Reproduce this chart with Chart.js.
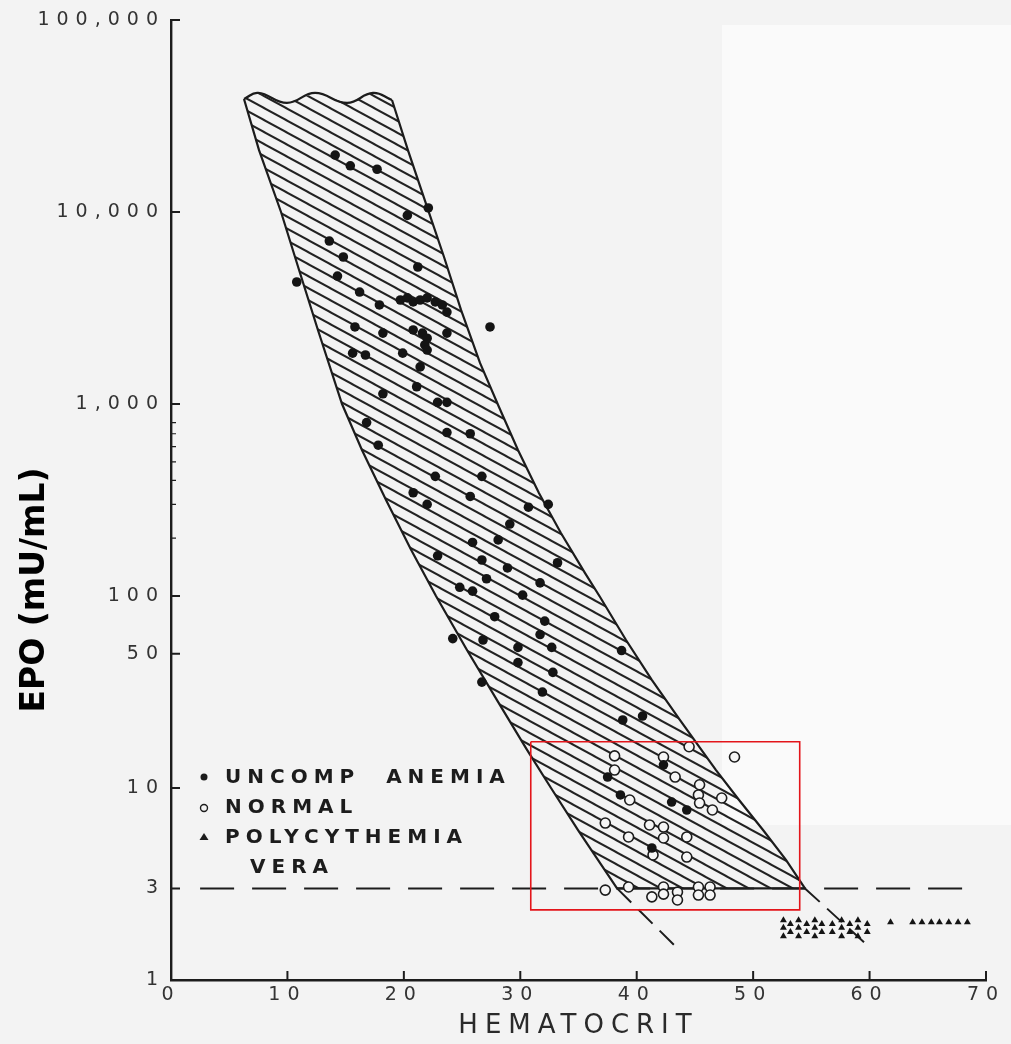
<!DOCTYPE html>
<html>
<head>
<meta charset="utf-8">
<title>EPO vs Hematocrit</title>
<script src="https://cdn.jsdelivr.net/npm/chart.js@4.4.1/dist/chart.umd.min.js"></script>
<style>
  html, body { margin: 0; padding: 0; background: #f3f3f3; }
  #wrap { position: relative; width: 1011px; height: 1044px; overflow: hidden; }
  #paper { position: absolute; left: 722px; top: 25px; width: 289px; height: 800px; background: #fafafa; }
  canvas { position: absolute; left: 0; top: 0; }
</style>
</head>
<body>
<div id="wrap">
  <div id="paper"></div>
  <canvas id="epo" width="1011" height="1044"></canvas>
</div>
<script>
// ---- axis ticks ----
const hctTicks = [0, 10, 20, 30, 40, 50, 60, 70];
const epoTicks = [1, 3, 10, 50, 100, 1000, 10000, 100000];
const epoTickLabels = ["1", "3", "10", "50", "100", "1,000", "10,000", "100,000"];
const epoMinorTicks = [200, 300, 400, 500, 600, 700, 800];

// ---- uncompensated anemia (filled dots) ----
const anemiaHct = [14.1, 15.4, 17.7, 20.3, 22.1, 13.6, 14.8, 21.2, 10.8, 14.3,
  16.2, 17.9, 19.7, 20.3, 20.8, 21.4, 22.0, 22.7, 23.3, 23.7,
  27.4, 15.8, 18.2, 20.8, 21.6, 22.0, 21.8, 22.0, 23.7, 15.6,
  16.7, 19.9, 21.4, 21.1, 18.2, 22.9, 23.7, 16.8, 17.8, 23.7,
  25.7, 22.7, 26.7, 20.8, 22.0, 25.7, 30.7, 32.4, 29.1, 25.9,
  28.1, 22.9, 26.7, 28.9, 33.2, 27.1, 24.8, 25.9, 30.2, 31.7,
  27.8, 32.1, 31.7, 24.2, 26.8, 29.8, 32.7, 38.7, 29.8, 32.8,
  26.7, 31.9, 38.8, 40.5, 37.5, 38.6, 43.0, 41.3, 42.3, 44.3];
const anemiaEpo = [19800, 17400, 16700, 9600, 10500, 7060, 5830, 5170, 4320, 4640,
  3830, 3280, 3480, 3570, 3400, 3480, 3570, 3400, 3280, 3010,
  2520, 2520, 2340, 2430, 2340, 2200, 2030, 1910, 2340, 1840,
  1800, 1840, 1560, 1230, 1130, 1020, 1020, 800, 610, 710,
  700, 420, 420, 345, 300, 330, 290, 300, 237, 190,
  196, 162, 154, 140, 149, 123, 111, 106, 101, 117,
  78, 74, 63, 60, 59, 54, 54, 52, 45, 40,
  35.6, 31.6, 22.6, 23.7, 11.4, 9.2, 8.45, 4.87, 13.2, 7.68];

// ---- normal (open circles) ----
const normalHct = [44.5, 38.1, 42.3, 48.4, 38.1, 43.3, 45.4, 45.3, 47.3, 39.4,
  45.4, 46.5, 37.3, 41.1, 42.3, 39.3, 42.3, 44.3, 41.4, 44.3,
  37.3, 39.3, 41.3, 42.3, 42.3, 43.5, 43.5, 45.3, 46.3, 45.3, 46.3];
const normalEpo = [16.4, 14.7, 14.5, 14.5, 12.4, 11.4, 10.4, 9.2, 8.87, 8.66,
  8.35, 7.68, 6.57, 6.42, 6.26, 5.56, 5.49, 5.56, 4.48, 4.37,
  2.94, 3.05, 2.71, 3.05, 2.8, 2.87, 2.61, 3.05, 3.05, 2.77, 2.77];

// ---- polycythemia vera (triangles) ----
const polyHct = [52.6, 52.6, 52.6, 53.2, 53.2, 53.9, 53.9, 53.9, 54.6, 54.6,
  55.3, 55.3, 55.3, 55.9, 55.9, 56.8, 56.8, 57.6, 57.6, 57.6,
  58.3, 58.3, 59.0, 59.0, 59.0, 59.8, 59.8, 61.8,
  63.7, 64.5, 65.3, 66.0, 66.8, 67.6, 68.4];
const polyEpo = [2.05, 1.87, 1.69, 1.96, 1.78, 2.05, 1.87, 1.69, 1.96, 1.78,
  2.05, 1.87, 1.69, 1.96, 1.78, 1.96, 1.78, 2.05, 1.87, 1.69,
  1.96, 1.78, 2.05, 1.87, 1.69, 1.96, 1.78, 2.0,
  2.0, 2.0, 2.0, 2.0, 2.0, 2.0, 2.0];

// ---- hatched normal band ----
const topHct = [6.27, 7.47, 9.96, 12.37, 15.12, 17.35, 18.98];
const topEpo = [38800, 41700, 37000, 41700, 37000, 41700, 38300];
const leftHct = [6.27, 7.56, 9.45, 11.0, 12.62, 14.69, 16.4, 18.47, 20.62, 22.76,
  25.42, 28.0, 30.58, 32.64, 34.96, 36.67, 38.31];
const leftEpo = [38800, 21000, 10000, 4990, 2430, 1000, 576, 316, 174, 100,
  52.3, 28.7, 15.8, 10, 6.04, 4.22, 3];
const rightHct = [18.98, 20.35, 22.0, 23.45, 24.91, 26.54, 28.17, 29.8, 31.6, 33.49,
  35.55, 36.85, 39.08, 41.31, 43.72, 46.81, 48.79, 50.85, 52.82, 54.45];
const rightEpo = [38300, 21000, 10600, 5830, 3090, 1636, 965, 576, 344, 213,
  132, 98.8, 59.0, 36.5, 22.6, 12.4, 8.66, 6.04, 4.22, 3];

// dashed lines: EPO = 3 cut-off and the extrapolated band edges
const cutHct = [2.5, 69];
const cutEpo = [3, 3];
const leftExtHct = [38.31, 43.46];
const leftExtEpo = [3, 1.47];
const rightExtHct = [54.45, 59.78];
const rightExtEpo = [3, 1.52];

// red highlight box
const boxHct = [30.9, 54.0, 54.0, 30.9, 30.9];
const boxEpo = [17.4, 17.4, 2.32, 2.32, 17.4];

const INK = "#1c1c1c";
const toXY = (xs, ys) => xs.map((x, i) => ({ x, y: ys[i] }));

const canvas = document.getElementById("epo");
const ctx = canvas.getContext("2d");

// diagonal hatch like the scanned figure
function makeHatch() {
  const w = 22, h = 12;
  const tile = document.createElement("canvas");
  tile.width = w;
  tile.height = h;
  const g = tile.getContext("2d");
  g.strokeStyle = "#222";
  g.lineWidth = 2;
  for (let n = -1; n <= 1; n++) {
    g.beginPath();
    g.moveTo(-2, (-2 * h) / w + n * h);
    g.lineTo(w + 2, ((w + 2) * h) / w + n * h);
    g.stroke();
  }
  return ctx.createPattern(tile, "repeat");
}

// closed outline of the band: top wave, right edge down, left edge back up
const bandPoly = toXY(topHct, topEpo)
  .concat(toXY(rightHct, rightEpo).slice(1))
  .concat(toXY(leftHct, leftEpo).reverse());

const lineDs = (data, extra) => Object.assign({
  type: "line",
  data,
  borderColor: INK,
  borderWidth: 2.2,
  pointRadius: 0,
  fill: false,
  tension: 0,
  order: 5,
}, extra);

// wide lettering of the old figure (scales only)
const spacing = {
  id: "spacing",
  beforeDraw(chart) { chart.ctx.letterSpacing = "7px"; },
  beforeDatasetsDraw(chart) { chart.ctx.letterSpacing = "0px"; },
};

// inward tick marks, legend and y title
const decor = {
  id: "decor",
  afterDraw(chart) {
    const c = chart.ctx;
    const { x, y } = chart.scales;
    const area = chart.chartArea;
    c.save();
    c.strokeStyle = INK;
    c.lineWidth = 2;
    c.beginPath();
    epoTicks.forEach((v) => {
      const py = y.getPixelForValue(v);
      c.moveTo(area.left, py);
      c.lineTo(area.left + 9, py);
    });
    hctTicks.forEach((v) => {
      const px = x.getPixelForValue(v);
      c.moveTo(px, area.bottom);
      c.lineTo(px, area.bottom - 9);
    });
    c.stroke();
    c.lineWidth = 1.2;
    c.beginPath();
    epoMinorTicks.forEach((v) => {
      const py = y.getPixelForValue(v);
      c.moveTo(area.left, py);
      c.lineTo(area.left + 5, py);
    });
    c.stroke();

    // legend
    c.fillStyle = INK;
    c.font = 'bold 20px "DejaVu Sans"';
    c.letterSpacing = "6px";
    c.textBaseline = "middle";
    c.textAlign = "left";
    c.fillText("UNCOMP  ANEMIA", 225, 778);
    c.fillText("NORMAL", 225, 808);
    c.fillText("POLYCYTHEMIA", 225, 838);
    c.fillText("VERA", 250, 868);
    c.letterSpacing = "0px";
    c.beginPath();
    c.arc(204, 777, 3.5, 0, Math.PI * 2);
    c.fill();
    c.lineWidth = 1.4;
    c.beginPath();
    c.arc(204, 808, 3.5, 0, Math.PI * 2);
    c.stroke();
    c.beginPath();
    c.moveTo(204, 833);
    c.lineTo(208.5, 840);
    c.lineTo(199.5, 840);
    c.closePath();
    c.fill();

    // y axis title
    c.translate(35, 590);
    c.rotate(-Math.PI / 2);
    c.fillStyle = "#000";
    c.font = 'bold 33px "DejaVu Sans"';
    c.textAlign = "center";
    c.fillText("EPO (mU/mL)", 0, 0);
    c.restore();
  },
};

const tickFont = { family: "DejaVu Sans", size: 19 };

new Chart(ctx, {
  type: "scatter",
  data: {
    datasets: [
      lineDs(toXY(boxHct, boxEpo), { borderColor: "#e3151a", borderWidth: 1.6, order: 0 }),
      {
        label: "UNCOMP ANEMIA",
        data: toXY(anemiaHct, anemiaEpo),
        pointStyle: "circle",
        pointRadius: 4.8,
        backgroundColor: "#141414",
        borderWidth: 0,
        order: 1,
      },
      {
        label: "NORMAL",
        data: toXY(normalHct, normalEpo),
        pointStyle: "circle",
        pointRadius: 5,
        backgroundColor: "#f6f6f6",
        borderColor: INK,
        borderWidth: 1.6,
        order: 1,
      },
      {
        label: "POLYCYTHEMIA VERA",
        data: toXY(polyHct, polyEpo),
        pointStyle: "triangle",
        pointRadius: 4,
        backgroundColor: "#141414",
        borderWidth: 0,
        order: 1,
      },
      lineDs(toXY(topHct, topEpo), { tension: 0.45 }),
      lineDs(toXY(leftHct, leftEpo)),
      lineDs(toXY(rightHct, rightEpo)),
      lineDs([{ x: leftHct[leftHct.length - 1], y: 3 }, { x: rightHct[rightHct.length - 1], y: 3 }]),
      lineDs(toXY(cutHct, cutEpo), { borderDash: [34, 18], borderWidth: 2 }),
      lineDs(toXY(leftExtHct, leftExtEpo), { borderDash: [20, 10], borderWidth: 2 }),
      lineDs(toXY(rightExtHct, rightExtEpo), { borderDash: [20, 10], borderWidth: 2 }),
      lineDs(bandPoly, {
        borderWidth: 0,
        fill: "shape",
        backgroundColor: makeHatch(),
        order: 10,
      }),
    ],
  },
  options: {
    responsive: false,
    animation: false,
    events: [],
    layout: { padding: { top: 20, right: 25, left: 0, bottom: 0 } },
    plugins: { legend: { display: false }, tooltip: { enabled: false } },
    scales: {
      x: {
        type: "linear",
        min: 0,
        max: 70,
        afterFit(scale) { scale.height = 64; },
        afterBuildTicks(scale) { scale.ticks = hctTicks.map((v) => ({ value: v })); },
        grid: { display: false, drawTicks: false },
        border: { color: INK, width: 2.4 },
        ticks: { font: tickFont, color: "#333", padding: 4, autoSkip: false, maxRotation: 0 },
        title: {
          display: true,
          text: "HEMATOCRIT",
          color: "#2a2a2a",
          font: { family: "DejaVu Sans", size: 26 },
          padding: { top: 0, bottom: 2 },
        },
      },
      y: {
        type: "logarithmic",
        min: 1,
        max: 100000,
        afterFit(scale) { scale.width = 171; },
        afterBuildTicks(scale) { scale.ticks = epoTicks.map((v) => ({ value: v })); },
        grid: { display: false, drawTicks: false },
        border: { color: INK, width: 2.4 },
        ticks: {
          font: tickFont,
          color: "#333",
          padding: 6,
          autoSkip: false,
          callback: (v) => epoTickLabels[epoTicks.indexOf(v)] ?? "",
        },
      },
    },
  },
  plugins: [spacing, decor],
});
</script>
</body>
</html>
